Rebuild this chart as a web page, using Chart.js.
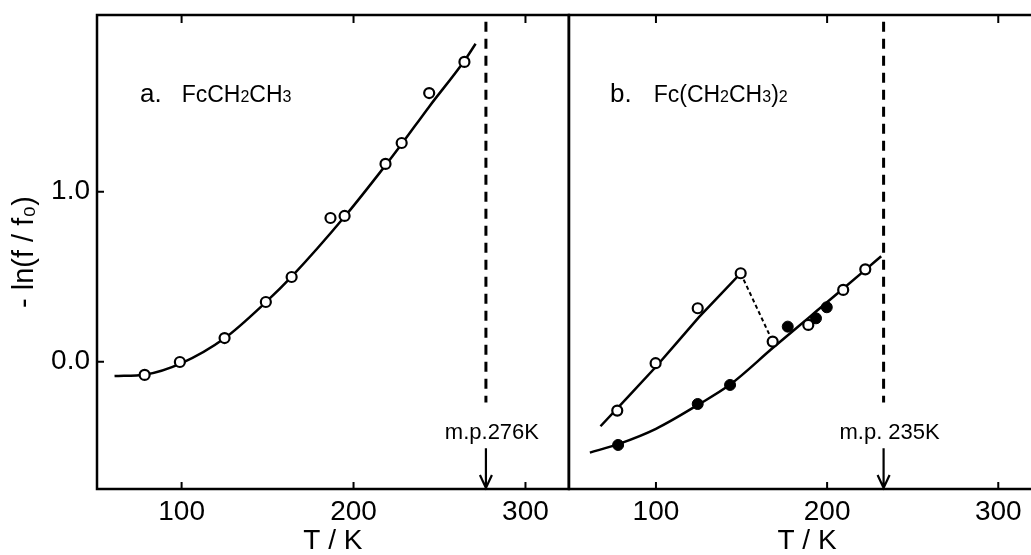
<!DOCTYPE html>
<html>
<head>
<meta charset="utf-8">
<script src="https://cdn.jsdelivr.net/npm/chart.js@4.4.0/dist/chart.umd.min.js"></script>
<style>
  html, body { margin: 0; padding: 0; background: #fff; }
  body { width: 1031px; height: 555px; overflow: hidden; position: relative; }
  .panel { position: absolute; top: 0; height: 555px; }
  #wrap-a { left: 0; width: 576px; }
  #wrap-b { left: 560px; width: 500px; }
</style>
</head>
<body>
<div class="panel" id="wrap-a"><canvas id="chart-a"></canvas></div>
<div class="panel" id="wrap-b"><canvas id="chart-b"></canvas></div>
<script>
// === Data ===

const X_TICKS = [100, 200, 300];
const Y_TICKS = [0, 1];
const Y_MIN = -0.749;
const Y_MAX = 2.039;

// a. FcCH2CH3 (open circles + fitted curve)
const A_T = [78.5, 99, 125, 149, 164, 186.6, 194.8, 218.6, 228, 244, 264.5];
const A_LN = [-0.078, -0.002, 0.139, 0.351, 0.498, 0.845, 0.857, 1.163, 1.286, 1.58, 1.763];
const A_FIT_T = [61, 79, 100, 125, 149, 164, 195, 219, 228, 244, 264.5, 271];
const A_FIT_LN = [-0.085, -0.075, -0.008, 0.138, 0.35, 0.5, 0.855, 1.16, 1.28, 1.5, 1.77, 1.87];
const A_MP = 277;
const A_MP_TEXT = 'm.p.276K';

// b. Fc(CH2CH3)2
const B_OPEN_T = [77.4, 99.8, 124.4, 149.5, 168.2, 189, 209.4, 222.3];
const B_OPEN_LN = [-0.288, -0.009, 0.314, 0.52, 0.118, 0.216, 0.422, 0.543];
const B_FILLED_T = [77.9, 124.4, 143.3, 177, 193.5, 199.8];
const B_FILLED_LN = [-0.49, -0.249, -0.137, 0.206, 0.255, 0.32];
const B_UPPER_T = [67.6, 100, 125, 149.5];
const B_UPPER_LN = [-0.38, -0.03, 0.26, 0.52];
const B_JUMP_T = [149.5, 168.2];
const B_JUMP_LN = [0.52, 0.118];
const B_LOWER_T = [61.4, 78, 100, 124.4, 143.3, 168.2, 190, 210, 222.3, 231.6];
const B_LOWER_LN = [-0.535, -0.485, -0.395, -0.255, -0.135, 0.08, 0.265, 0.435, 0.54, 0.62];
const B_MP = 233;
const B_MP_TEXT = 'm.p. 235K';

// melting point markers (in -ln(f/f0) units)
const MP_DASH_TOP = 2.0;
const MP_DASH_BOTTOM = -0.24;
const MP_LABEL_LN = -0.42;
const MP_ARROW_TOP = -0.51;

const FONT = "'Liberation Sans', Arial, sans-serif";
Chart.defaults.font.family = FONT;
Chart.defaults.color = '#000';

const pts = (xs, ys) => xs.map((x, i) => ({ x, y: ys[i] }));

function openCircles(xs, ys) {
  return {
    data: pts(xs, ys),
    pointRadius: 5,
    pointBorderWidth: 2.2,
    backgroundColor: '#fff',
    borderColor: '#000',
  };
}

function filledCircles(xs, ys) {
  return {
    data: pts(xs, ys),
    pointRadius: 5.5,
    pointBorderWidth: 1,
    backgroundColor: '#000',
    borderColor: '#000',
  };
}

function curve(xs, ys, extra) {
  return Object.assign({
    data: pts(xs, ys),
    showLine: true,
    pointRadius: 0,
    borderColor: '#000',
    borderWidth: 2.5,
    cubicInterpolationMode: 'monotone',
  }, extra || {});
}

function mpLine(t) {
  return {
    data: pts([t, t], [MP_DASH_TOP, MP_DASH_BOTTOM]),
    showLine: true,
    pointRadius: 0,
    borderColor: '#000',
    borderWidth: 3,
    borderDash: [10, 7],
  };
}

// draws a label made of runs of different font sizes on one baseline
function drawRuns(ctx, x, baseline, runs) {
  let cx = x;
  runs.forEach(r => {
    cx += r.gap || 0;
    ctx.font = `${r.size}px ${FONT}`;
    ctx.fillText(r.text, cx, baseline + (r.drop || 0));
    cx += ctx.measureText(r.text).width;
  });
}

// frame, inward ticks, m.p. arrow and panel label
const framePlugin = {
  id: 'frame',
  afterDatasetsDraw(chart, args, opts) {
    const { ctx, chartArea: a, scales: { x, y } } = chart;
    ctx.save();
    ctx.strokeStyle = '#000';
    ctx.fillStyle = '#000';
    ctx.lineWidth = 2.5;
    ctx.strokeRect(a.left, a.top, a.right - a.left, a.bottom - a.top);

    ctx.lineWidth = 2;
    ctx.beginPath();
    X_TICKS.forEach(v => {
      const px = x.getPixelForValue(v);
      ctx.moveTo(px, a.bottom); ctx.lineTo(px, a.bottom - 7);
      ctx.moveTo(px, a.top); ctx.lineTo(px, a.top + 8);
    });
    if (opts.yTicks) {
      Y_TICKS.forEach(v => {
        const py = y.getPixelForValue(v);
        ctx.moveTo(a.left, py); ctx.lineTo(a.left + 7, py);
      });
    }
    ctx.stroke();

    // arrow to the melting point
    const mx = x.getPixelForValue(opts.mp);
    ctx.lineWidth = 2.2;
    ctx.beginPath();
    ctx.moveTo(mx, y.getPixelForValue(MP_ARROW_TOP));
    ctx.lineTo(mx, a.bottom - 1);
    ctx.moveTo(mx - 6, a.bottom - 14);
    ctx.lineTo(mx, a.bottom - 1);
    ctx.lineTo(mx + 6, a.bottom - 14);
    ctx.stroke();

    ctx.font = `22px ${FONT}`;
    ctx.textAlign = 'center';
    ctx.textBaseline = 'middle';
    ctx.fillText(opts.mpText, mx + 6, y.getPixelForValue(MP_LABEL_LN));

    ctx.textAlign = 'left';
    ctx.textBaseline = 'alphabetic';
    drawRuns(ctx, a.left + opts.labelX, a.top + 87, opts.label);
    ctx.restore();
  },
};

function xScale(min, max, extra) {
  return Object.assign({
    type: 'linear',
    min,
    max,
    afterBuildTicks: s => { s.ticks = X_TICKS.map(v => ({ value: v })); },
    grid: { display: false, drawTicks: false },
    border: { display: false },
    ticks: { font: { size: 28 }, padding: 6, maxRotation: 0, color: '#000' },
    title: { display: true, text: 'T / K', font: { size: 28, lineHeight: 1 }, padding: 0, color: '#000' },
    afterFit: s => { s.height = 66; s.paddingLeft = 0; s.paddingRight = 0; },
  }, extra || {});
}

function baseOptions(padding, scales, frame) {
  return {
    responsive: true,
    maintainAspectRatio: false,
    animation: false,
    layout: { padding },
    plugins: { legend: { display: false }, tooltip: { enabled: false }, frame },
    scales,
  };
}

function renderPanelA() {
  const ctx = document.getElementById('chart-a');
  new Chart(ctx, {
    type: 'scatter',
    data: {
      datasets: [
        openCircles(A_T, A_LN),
        curve(A_FIT_T, A_FIT_LN),
        mpLine(A_MP),
      ],
    },
    options: baseOptions(
      { top: 15, right: 3, left: 0, bottom: 0 },
      {
        x: xScale(50.8, 325.2),
        y: {
          min: Y_MIN,
          max: Y_MAX,
          afterBuildTicks: s => { s.ticks = Y_TICKS.map(v => ({ value: v })); },
          grid: { display: false, drawTicks: false },
          border: { display: false },
          ticks: { callback: v => v.toFixed(1), font: { size: 28 }, padding: 7, color: '#000' },
          title: {
            display: true,
            text: '- ln(f / f₀)',
            font: { size: 29, lineHeight: 1 },
            padding: { top: 10, bottom: 0 },
            color: '#000',
          },
          afterFit: s => { s.width = 97; s.paddingTop = 0; s.paddingBottom = 0; },
        },
      },
      {
        yTicks: true,
        mp: A_MP,
        mpText: A_MP_TEXT,
        labelX: 43,
        label: [
          { text: 'a.', size: 26 },
          { text: 'FcCH', size: 23, gap: 20 },
          { text: '2', size: 16 },
          { text: 'CH', size: 23 },
          { text: '3', size: 16 },
        ],
      }
    ),
    plugins: [framePlugin],
  });
}

function renderPanelB() {
  const ctx = document.getElementById('chart-b');
  new Chart(ctx, {
    type: 'scatter',
    data: {
      datasets: [
        filledCircles(B_FILLED_T, B_FILLED_LN),
        openCircles(B_OPEN_T, B_OPEN_LN),
        curve(B_UPPER_T, B_UPPER_LN, { cubicInterpolationMode: 'default', tension: 0.1 }),
        curve(B_JUMP_T, B_JUMP_LN, { borderWidth: 2, borderDash: [4, 3], cubicInterpolationMode: 'default' }),
        curve(B_LOWER_T, B_LOWER_LN),
        mpLine(B_MP),
      ],
    },
    options: baseOptions(
      { top: 15, right: 15, left: 9, bottom: 0 },
      {
        x: xScale(49.2, 327.3),
        y: { display: false, min: Y_MIN, max: Y_MAX },
      },
      {
        yTicks: false,
        mp: B_MP,
        mpText: B_MP_TEXT,
        labelX: 41,
        label: [
          { text: 'b.', size: 26 },
          { text: 'Fc(CH', size: 23, gap: 22 },
          { text: '2', size: 16 },
          { text: 'CH', size: 23 },
          { text: '3', size: 16 },
          { text: ')', size: 23 },
          { text: '2', size: 16 },
        ],
      }
    ),
    plugins: [framePlugin],
  });
}

renderPanelA();
renderPanelB();
</script>
</body>
</html>
